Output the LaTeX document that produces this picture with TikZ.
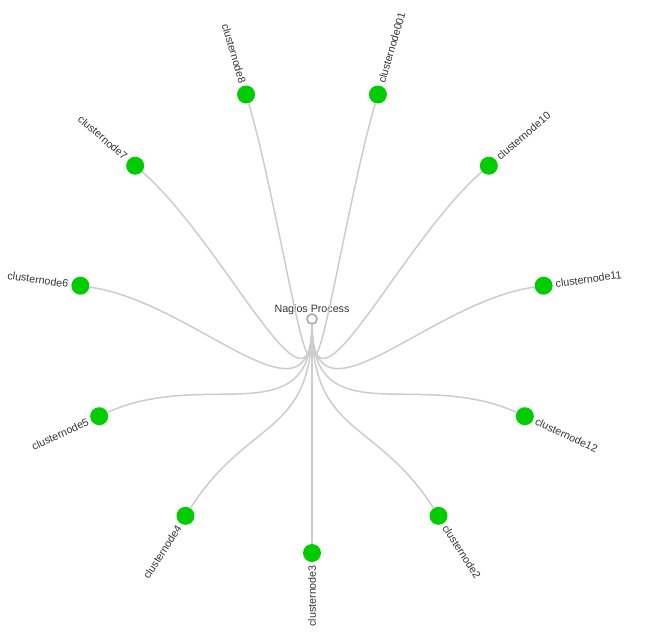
\documentclass[tikz,border=0pt]{standalone}
\usepackage{fontspec}
\setmainfont{Liberation Sans}
\usepackage{tikz}
\definecolor{leafgreen}{RGB}{0,204,0}
\definecolor{linkgray}{RGB}{204,204,204}
\tikzset{leaf/.style = {fill=leafgreen, circle, inner sep = 0, minimum size = 18}}
\tikzset{rootnode/.style = {draw=black!35, fill=white, line width = 1.5, circle, inner sep = 0, minimum size = 10}}
\tikzset{link/.style = {draw=linkgray, line width = 1.5}}
\tikzset{leaftext/.style = {inner sep = 0, text=black!80, font=\fontsize{10.7}{12}\selectfont}}
\tikzset{outtext/.style = {leaftext, anchor=west}}
\tikzset{intext/.style = {leaftext, anchor=east}}

\begin{document}
\begin{tikzpicture}[x=1pt, y=1pt]
    \useasboundingbox (-312, -313) rectangle (338, 319);

    \node [rootnode] (root) at (0, 0) {};
    \node [leaftext, anchor=base] (root text) at (0, 7) {Nagios Process};

    \node [leaf] (n3) at (-90:234) {};
    \node [leaf] (n2) at (-57.27:234) {};
    \node [leaf] (n12) at (-24.55:234) {};
    \node [leaf] (n11) at (8.18:234) {};
    \node [leaf] (n10) at (40.91:234) {};
    \node [leaf] (n001) at (73.64:234) {};
    \node [leaf] (n8) at (106.36:234) {};
    \node [leaf] (n7) at (139.09:234) {};
    \node [leaf] (n6) at (171.82:234) {};
    \node [leaf] (n5) at (204.55:234) {};
    \node [leaf] (n4) at (237.27:234) {};

    \node [intext, rotate=90] (n3 text) at (-90:246) {clusternode3};
    \node [outtext, rotate=-57.27] (n2 text) at (-57.27:246) {clusternode2};
    \node [outtext, rotate=-24.55] (n12 text) at (-24.55:246) {clusternode12};
    \node [outtext, rotate=8.18] (n11 text) at (8.18:246) {clusternode11};
    \node [outtext, rotate=40.91] (n10 text) at (40.91:246) {clusternode10};
    \node [outtext, rotate=73.64] (n001 text) at (73.64:246) {clusternode001};
    \node [intext, rotate=-73.64] (n8 text) at (106.36:246) {clusternode8};
    \node [intext, rotate=-40.91] (n7 text) at (139.09:246) {clusternode7};
    \node [intext, rotate=-8.18] (n6 text) at (171.82:246) {clusternode6};
    \node [intext, rotate=24.55] (n5 text) at (204.55:246) {clusternode5};
    \node [intext, rotate=57.27] (n4 text) at (237.27:246) {clusternode4};

    \draw [link] (root) -- (n3);
    \draw [link] (root) .. controls (-90:117) and (-57.27:117) .. (n2);
    \draw [link] (root) .. controls (-90:117) and (-24.55:117) .. (n12);
    \draw [link] (root) .. controls (-90:117) and (8.18:117) .. (n11);
    \draw [link] (root) .. controls (-90:117) and (40.91:117) .. (n10);
    \draw [link] (root) .. controls (-90:117) and (73.64:117) .. (n001);
    \draw [link] (root) .. controls (-90:117) and (106.36:117) .. (n8);
    \draw [link] (root) .. controls (-90:117) and (139.09:117) .. (n7);
    \draw [link] (root) .. controls (-90:117) and (171.82:117) .. (n6);
    \draw [link] (root) .. controls (-90:117) and (204.55:117) .. (n5);
    \draw [link] (root) .. controls (-90:117) and (237.27:117) .. (n4);
  \end{tikzpicture}
\end{document}
